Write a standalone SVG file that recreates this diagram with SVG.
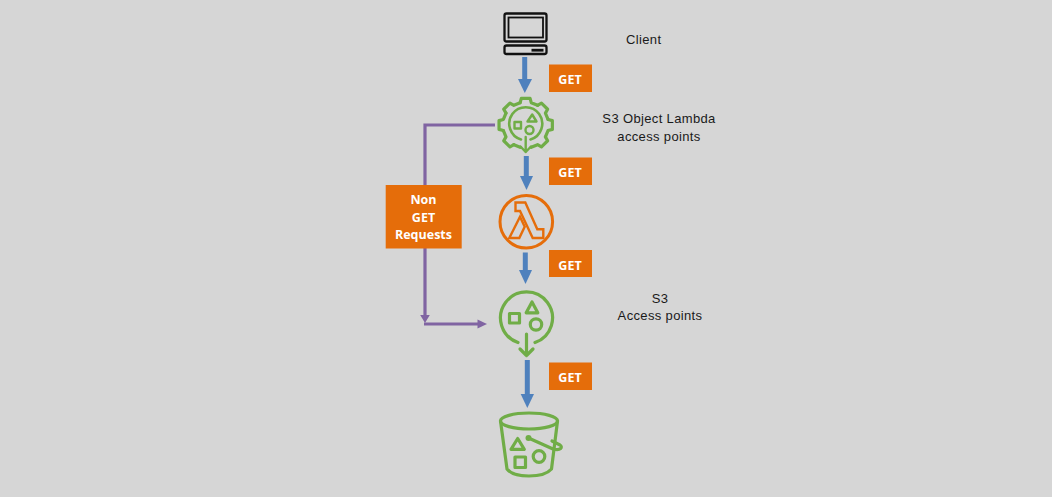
<svg xmlns="http://www.w3.org/2000/svg" xmlns:xlink="http://www.w3.org/1999/xlink" width="1052" height="497" viewBox="0 0 1052 497">
<style>
.g{fill:none;stroke:#70ad47;stroke-width:3.2;stroke-linejoin:round;stroke-linecap:round}
.o{fill:none;stroke:#e56d0a;stroke-width:3;stroke-linejoin:miter}
.k{fill:none;stroke:#111;stroke-width:2.300}
.box{fill:#e56d0a}
.bl{font:bold 12.500px "Open Sans",Lato,sans-serif;fill:#fff;text-anchor:middle}
.t{font:13px "Liberation Sans",Arial,sans-serif;letter-spacing:.35px;fill:#1a1a1a;text-anchor:middle}
.b{stroke:#4f81bd;stroke-width:5;fill:none}
.bh{fill:#4f81bd}
.p{stroke:#8064a2;stroke-width:3.200;fill:none}
.ph{fill:#8064a2}
</style>
<defs>
<path id="tooth" class="g" d="M-5.560,-22.320 L-4.380,-26.660 L4.380,-26.660 L5.560,-22.320 L11.850,-19.710"/>
</defs>
<rect width="1052" height="497" fill="#d6d6d6"/>
<g id="connectors">
<path class="b" d="M524.700,57V80"/><path class="bh" d="M518,79H532L524.800,93Z"/>
<path class="b" d="M526.300,156V177"/><path class="bh" d="M520,176H533L526.500,190Z"/>
<path class="b" d="M525.300,252.500V271"/><path class="bh" d="M519,270H532L525.500,284Z"/>
<path class="b" d="M527.300,360V395"/><path class="bh" d="M520.700,394H534L527.300,408Z"/>
<path class="p" d="M495,125H425V316"/><path class="ph" d="M420.200,315H429.800L425,323Z"/>
<path class="p" d="M424,324H479"/><path class="ph" d="M477.500,319.500L487,324L477.500,328.500Z"/>
</g>
<g id="client">
<rect class="k" x="504.500" y="13.500" width="42" height="28" rx="2"/>
<rect class="k" x="508.500" y="17.500" width="34.500" height="20" style="stroke-width:1.800"/>
<rect class="k" x="504.500" y="45.500" width="42" height="8.500" rx="2"/>
<rect x="531.500" y="48.800" width="12" height="2.800" fill="#111"/>
<text class="t" x="643.700" y="44">Client</text>
</g>
<g id="get1"><rect class="box" x="549" y="64.500" width="43" height="27.500"/><text class="bl" x="570" y="84">GET</text></g>
<g id="object-lambda-access-point">
<g transform="translate(525.700 125)">
<use xlink:href="#tooth"/><use xlink:href="#tooth" transform="rotate(45)"/><use xlink:href="#tooth" transform="rotate(90)"/><use xlink:href="#tooth" transform="rotate(135)"/>
<use xlink:href="#tooth" transform="rotate(225)"/><use xlink:href="#tooth" transform="rotate(270)"/><use xlink:href="#tooth" transform="rotate(315)"/>
<path class="g" d="M5.560,-22.320 L11.850,-19.710" transform="rotate(180)"/>
</g>
<path class="g" d="M521,139.500A16.500,16.500 0 1 1 530.500,139.500" style="stroke-width:2.600"/>
<path class="g" d="M532.200,114.500L536.500,121.500H527.500Z" style="stroke-width:2.400"/>
<rect class="g" x="514.500" y="122" width="6.500" height="6.500" style="stroke-width:2.400"/>
<circle class="g" cx="529.500" cy="130" r="4" style="stroke-width:2.400"/>
<path class="g" d="M525.700,137V152M520.500,146.500L525.700,152L531,146.500" style="stroke-width:2.400"/>
<text class="t" x="659" y="123">S3 Object Lambda</text>
<text class="t" x="659" y="141">access points</text>
</g>
<g id="get2"><rect class="box" x="549" y="157.500" width="43" height="27.500"/><text class="bl" x="570" y="177">GET</text></g>
<g id="lambda">
<circle class="o" cx="526.300" cy="221.700" r="26.300"/>
<path class="o" d="M515.500,202.500H525.300L537.300,229.300H543.300V238H532.700L520,211H515.500Z" style="stroke-width:2.400"/>
<path class="o" d="M520,216.700L524.700,226.700L519.300,238H509.300Z" style="stroke-width:2.400"/>
</g>
<g id="get3"><rect class="box" x="549" y="250" width="43" height="27"/><text class="bl" x="570" y="269.500">GET</text></g>
<g id="s3-access-points">
<path class="g" d="M518,342.500A26,26 0 1 1 535,342.500"/>
<path class="g" d="M526.500,334V355.500M520,349L526.500,355.500L533,349"/>
<path class="g" d="M532,302L537.800,312.800H526.200Z"/>
<rect class="g" x="509.500" y="313.500" width="10" height="9.500"/>
<circle class="g" cx="536" cy="324.500" r="5.700"/>
<text class="t" x="660" y="303">S3</text>
<text class="t" x="660" y="320">Access points</text>
</g>
<g id="get4"><rect class="box" x="549" y="362.500" width="43" height="27.500"/><text class="bl" x="570" y="382">GET</text></g>
<g id="non-get"><rect class="box" x="385.700" y="185" width="76" height="63.500"/>
<text class="bl" x="423.500" y="204">Non</text><text class="bl" x="423.500" y="222">GET</text><text class="bl" x="423.500" y="239">Requests</text></g>
<g id="s3-bucket">
<ellipse class="g" cx="529" cy="421" rx="28.500" ry="8"/>
<path class="g" d="M500.500,421L507,469C510,473 518,476 529,476C540,476 548,473 551.500,469L557.500,421"/>
<circle cx="528.500" cy="438" r="3" fill="#70ad47"/>
<path class="g" d="M528.500,438L553,449C561,451 563,447 560,445L552,441"/>
<path class="g" d="M517.700,438.500L524.300,449.300H511Z"/>
<rect class="g" x="515" y="457" width="10.500" height="10.500"/>
<circle class="g" cx="539" cy="456.500" r="5.800"/>
</g>
</svg>
